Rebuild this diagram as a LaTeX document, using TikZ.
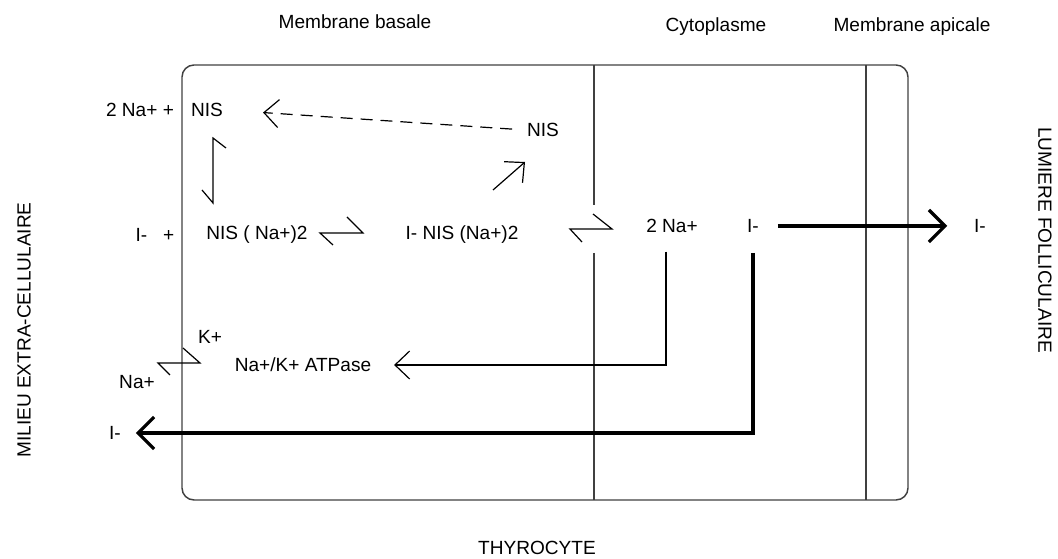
\documentclass[tikz,border=0pt]{standalone}
\usepackage{fontspec}
\setmainfont{Liberation Sans}
\usetikzlibrary{arrows.meta}

\begin{document}
\begin{tikzpicture}[x=0.75pt, y=-0.75pt,
  lbl/.style={inner sep=1pt, font=\fontsize{14.3}{16}\selectfont},
  wall/.style={line width=1.1pt, draw=black!75},
  flow/.style={line width=0.9pt, -{Straight Barb[length=11pt,width=21pt]}},
  bigflow/.style={line width=2.4pt, -{Straight Barb[length=12pt,width=24pt]}},
  harp/.style={line width=0.9pt}]

\path [use as bounding box] (0,0) rectangle (1058,559);

% CELL
\draw [wall, rounded corners=9pt] (182,65) rectangle (908,500);
\draw [wall] (594,65) -- (594,205);
\draw [wall] (594,253) -- (594,500);
\draw [wall] (866,65) -- (866,500);

% COMPARTMENTS
\node [lbl] (basale) at (355,22) {Membrane basale};
\node [lbl] (cyto) at (716,27) {Cytoplasme};
\node [lbl] (apicale) at (912,27) {Membrane apicale};
\node [lbl] (thyro) at (537,548) {THYROCYTE};
\node [lbl, rotate=90] (milieu) at (24,330) {MILIEU EXTRA-CELLULAIRE};
\node [lbl, rotate=-90] (lumiere) at (1045,240) {LUMIERE FOLLICULAIRE};

% SPECIES
\node [lbl] (naa) at (140,110) {2 Na+ +};
\node [lbl] (nisa) at (207,110) {NIS};
\node [lbl] (nisb) at (543,130) {NIS};
\node [lbl] (iplus) at (155,235) {I-\ \ \ +};
\node [lbl] (nisna) at (257,235) {NIS ( Na+)2};
\node [lbl] (inisna) at (462,235) {I- NIS (Na+)2};
\node [lbl] (nab) at (672,226) {2 Na+};
\node [lbl] (icyto) at (753,226) {I-};
\node [lbl] (ilum) at (980,226) {I-};
\node [lbl] (iext) at (115,433) {I-};
\node [lbl] (atpase) at (303,365) {Na+/K+ ATPase};
\node [lbl] (kplus) at (210,337) {K+};
\node [lbl] (naext) at (137,382) {Na+};

% EQUILIBRIA
\draw [harp] (213,138) +(-11,52) -- +(0,65) -- +(0,0) -- +(13,10);
\draw [harp] (320,233) +(13,12) -- +(0,0) -- +(43,0) -- +(27,-16);
\draw [harp] (570,229) +(12,13) -- +(0,0) -- +(42,0) -- +(23,-15);
\draw [harp] (158,363) +(12,12) -- +(0,0) -- +(42,0) -- +(25,-15);

% NIS RECYCLING
\draw [flow, dash pattern=on 9pt off 6pt, shorten <=10pt, shorten >=29pt] (nisb.west) -- (nisa.east);
\draw [flow] (inisna) ++(31,-45) -- ++(32,-28);

% SODIUM
\draw [flow, shorten <=13pt, shorten >=16pt] ([xshift=-4.5pt]nab.south) |- (atpase.east);

% IODIDE
\draw [bigflow, shorten <=13pt, shorten >=19pt] (icyto.east) -- (ilum.west);
\draw [bigflow, shorten <=14pt, shorten >=10pt] (icyto.south) |- (iext.east);

\end{tikzpicture}
\end{document}
